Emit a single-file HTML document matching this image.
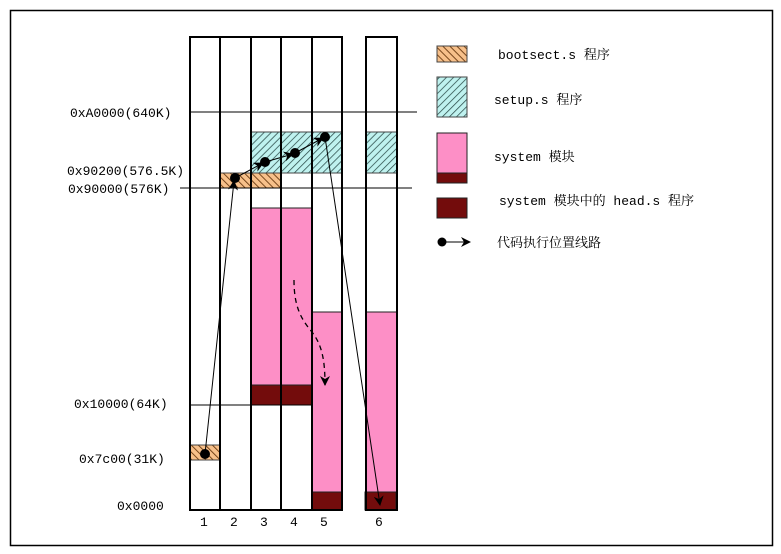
<!DOCTYPE html>
<html><head><meta charset="utf-8"><style>
html,body{margin:0;padding:0;background:#fff;}
svg{display:block;}
text{font-family:"Liberation Mono","Noto Serif CJK SC",monospace;font-size:13px;fill:#000;}
</style></head><body>
<svg width="781" height="554" viewBox="0 0 781 554">
<defs>
<pattern id="hatchO" patternUnits="userSpaceOnUse" width="5" height="5" patternTransform="rotate(-45)">
<rect width="5" height="5" fill="#f7c08a"/><line x1="0" y1="0" x2="0" y2="5" stroke="#6a3a10" stroke-width="1.8"/></pattern>
<pattern id="hatchC" patternUnits="userSpaceOnUse" width="5" height="5" patternTransform="rotate(45)">
<rect width="5" height="5" fill="#bff2ef"/><line x1="0" y1="0" x2="0" y2="5" stroke="#2a4a48" stroke-width="1.5"/></pattern>
<marker id="arr" markerWidth="10" markerHeight="10" refX="9" refY="5" orient="auto" markerUnits="userSpaceOnUse">
<path d="M0,0 L10,5 L0,10 L3,5 Z" fill="#000"/></marker>
</defs>
<rect x="10.5" y="10.5" width="762" height="535" fill="none" stroke="#000" stroke-width="1.5"/>

<g>
<text x="70" y="117">0xA0000(640K)</text>
<text x="67" y="175">0x90200(576.5K)</text>
<text x="68" y="193">0x90000(576K)</text>
<text x="74" y="408">0x10000(64K)</text>
<text x="79" y="463">0x7c00(31K)</text>
<text x="117" y="510">0x0000</text>
</g>

<g>
<rect x="190" y="445" width="30" height="15" fill="url(#hatchO)" stroke="#444"/>
<rect x="220" y="173" width="61" height="15" fill="url(#hatchO)" stroke="#444"/>
<rect x="251" y="132" width="91" height="41" fill="url(#hatchC)" stroke="#444"/>
<rect x="366" y="132" width="31" height="41" fill="url(#hatchC)" stroke="#444"/>
<rect x="251" y="208" width="61" height="177" fill="#fd8fc6" stroke="#222"/>
<rect x="251" y="385" width="61" height="20" fill="#730c0c" stroke="#222"/>
<rect x="312" y="312" width="30" height="180" fill="#fd8fc6" stroke="#222"/>
<rect x="312" y="492" width="30" height="18" fill="#730c0c" stroke="#222"/>
<rect x="366" y="312" width="31" height="180" fill="#fd8fc6" stroke="#222"/>
<rect x="365" y="492" width="31" height="18" fill="#730c0c" stroke="#222"/>
</g>

<g stroke="#000">
<line x1="190" y1="112" x2="417" y2="112" stroke-width="1"/>
<line x1="180" y1="188" x2="412" y2="188" stroke-width="1"/>
<line x1="190" y1="405" x2="312" y2="405" stroke-width="1"/>
</g>

<g fill="none" stroke="#000" stroke-width="2">
<rect x="190" y="37" width="152" height="473"/>
<line x1="220" y1="37" x2="220" y2="510"/>
<line x1="251" y1="37" x2="251" y2="510"/>
<line x1="281" y1="37" x2="281" y2="510"/>
<line x1="312" y1="37" x2="312" y2="510"/>
<rect x="366" y="37" width="31" height="473"/>
</g>

<g>
<text x="200" y="526">1</text><text x="230" y="526">2</text><text x="260" y="526">3</text>
<text x="290" y="526">4</text><text x="320" y="526">5</text><text x="375" y="526">6</text>
</g>

<g stroke="#000" stroke-width="1" fill="none">
<line x1="205" y1="454" x2="234" y2="181" marker-end="url(#arr)"/>
<line x1="235" y1="178" x2="263" y2="163" marker-end="url(#arr)"/>
<line x1="265" y1="162" x2="293" y2="154" marker-end="url(#arr)"/>
<line x1="295" y1="153" x2="323" y2="138" marker-end="url(#arr)"/>
<line x1="325" y1="137" x2="380" y2="505" marker-end="url(#arr)"/>
<path d="M294,280 C294,305 300,318 312,332 C322,345 325,360 325,385" stroke-dasharray="5,4" stroke-width="1.3" marker-end="url(#arr)"/>
</g>
<g fill="#000">
<circle cx="205" cy="454" r="5"/><circle cx="235" cy="178" r="5"/><circle cx="265" cy="162" r="5"/>
<circle cx="295" cy="153" r="5"/><circle cx="325" cy="137" r="5"/>
</g>

<g>
<rect x="437" y="46" width="30" height="16" fill="url(#hatchO)" stroke="#444"/>
<text x="498" y="59">bootsect.s 程序</text>
<rect x="437" y="77" width="30" height="40" fill="url(#hatchC)" stroke="#444"/>
<text x="494" y="104">setup.s 程序</text>
<rect x="437" y="133" width="30" height="40" fill="#fd8fc6" stroke="#222"/>
<rect x="437" y="173" width="30" height="10" fill="#730c0c" stroke="#222"/>
<text x="494" y="161">system 模块</text>
<rect x="437" y="198" width="30" height="20" fill="#730c0c" stroke="#222"/>
<text x="499" y="205">system 模块中的 head.s 程序</text>
<circle cx="442" cy="242" r="4.5" fill="#000"/>
<line x1="442" y1="242" x2="470" y2="242" stroke="#000" stroke-width="1" marker-end="url(#arr)"/>
<text x="497" y="247">代码执行位置线路</text>
</g>
</svg>
</body></html>
